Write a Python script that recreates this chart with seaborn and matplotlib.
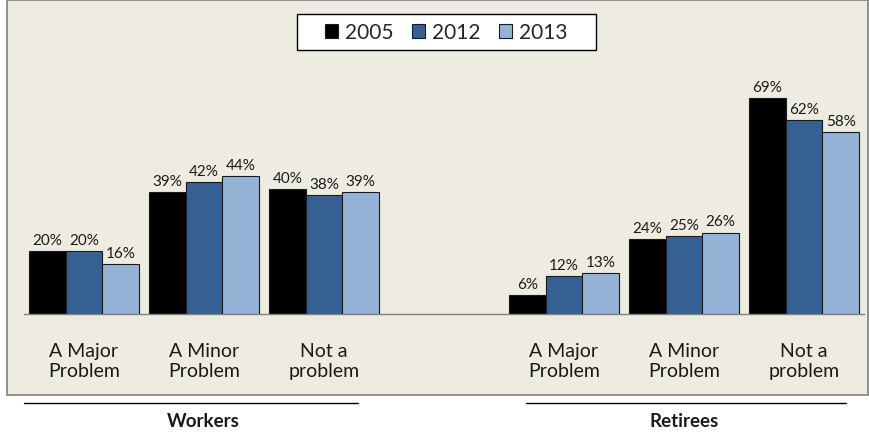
import matplotlib
matplotlib.use("Agg")
import matplotlib.pyplot as plt
from matplotlib.patches import Rectangle, Patch
from matplotlib.lines import Line2D
import pandas as pd
import seaborn as sns

# Survey answers per group
groups = ["Workers", "Retirees"]
answers = ["A Major\nProblem", "A Minor\nProblem", "Not a\nproblem"]
years = ["2005", "2012", "2013"]

workers_2005 = [20, 39, 40]
workers_2012 = [20, 42, 38]
workers_2013 = [16, 44, 39]
retirees_2005 = [6, 24, 69]
retirees_2012 = [12, 25, 62]
retirees_2013 = [13, 26, 58]

colors = ["#000000", "#376092", "#95B3D7"]

rows = []
series = {
    "Workers": [workers_2005, workers_2012, workers_2013],
    "Retirees": [retirees_2005, retirees_2012, retirees_2013],
}
for g in groups:
    for yi, yr in enumerate(years):
        for ai, ans in enumerate(answers):
            rows.append({"slot": f"{g}-{ai}", "year": yr, "value": series[g][yi][ai]})
df = pd.DataFrame(rows)

order = [f"Workers-{i}" for i in range(3)] + ["gap"] + [f"Retirees-{i}" for i in range(3)]
tick_labels = answers + [""] + answers

sns.set_theme(style="white")
plt.rcParams["font.family"] = ["Lato", "DejaVu Sans"]

W, H = 870, 435
fig = plt.figure(figsize=(W / 100, H / 100), dpi=100)
fig.patch.set_facecolor("white")


def fx(px):
    return px / W


def fy(py):
    return 1 - py / H


# framed panel behind the chart
fig.patches.append(Rectangle((fx(7), fy(396)), fx(861), 396 / H - 0.002,
                             transform=fig.transFigure, facecolor="#EEECE1",
                             edgecolor="#7F7F7F", linewidth=1.2, zorder=-5))

ax = fig.add_axes([fx(24), fy(315), fx(840), 305 / H])
ax.set_facecolor("none")
ax.set_zorder(2)

sns.barplot(data=df, x="slot", y="value", hue="year", order=order, hue_order=years,
            palette=colors, width=0.917, gap=0, saturation=1, edgecolor="#1a1a1a",
            linewidth=0.8, errorbar=None, legend=False, ax=ax)

for cont in ax.containers:
    ax.bar_label(cont, fmt="%d%%", padding=3, fontsize=11, color="#1a1a1a")

ax.set_ylim(0, 97.4)
ax.set_xlim(-0.5, 6.5)
ax.set_xticks(range(len(order)))
ax.set_xticklabels(tick_labels, fontsize=14, color="#1a1a1a", linespacing=1.2)
ax.tick_params(axis="x", length=0, pad=20)
ax.set_yticks([])
ax.set_xlabel("")
ax.set_ylabel("")
for s in ["top", "right", "left"]:
    ax.spines[s].set_visible(False)
ax.spines["bottom"].set_color("#808080")
ax.spines["bottom"].set_linewidth(1.0)

# legend box
fig.patches.append(Rectangle((fx(297), fy(51)), fx(299), 36 / H,
                             transform=fig.transFigure, facecolor="white",
                             edgecolor="black", linewidth=1.0, zorder=3))
handles = [Patch(facecolor=c, edgecolor="#1a1a1a", linewidth=0.8) for c in colors]
leg = fig.legend(handles, years, loc="center", bbox_to_anchor=(fx(446), fy(33)),
                 ncol=3, frameon=False, fontsize=15, handlelength=0.65,
                 handleheight=0.65, handletextpad=0.3, columnspacing=0.9)
leg.set_zorder(4)

# group labels beneath the panel
y_line = fy(404)
fig.add_artist(Line2D([fx(24), fx(358)], [y_line, y_line], color="black", linewidth=1))
fig.add_artist(Line2D([fx(526), fx(846)], [y_line, y_line], color="black", linewidth=1))
fig.text(fx(203), fy(422), groups[0], ha="center", va="center",
         fontsize=13.5, fontweight="bold", color="#1a1a1a")
fig.text(fx(684), fy(422), groups[1], ha="center", va="center",
         fontsize=13.5, fontweight="bold", color="#1a1a1a")

fig.savefig("out.png", dpi=100)
